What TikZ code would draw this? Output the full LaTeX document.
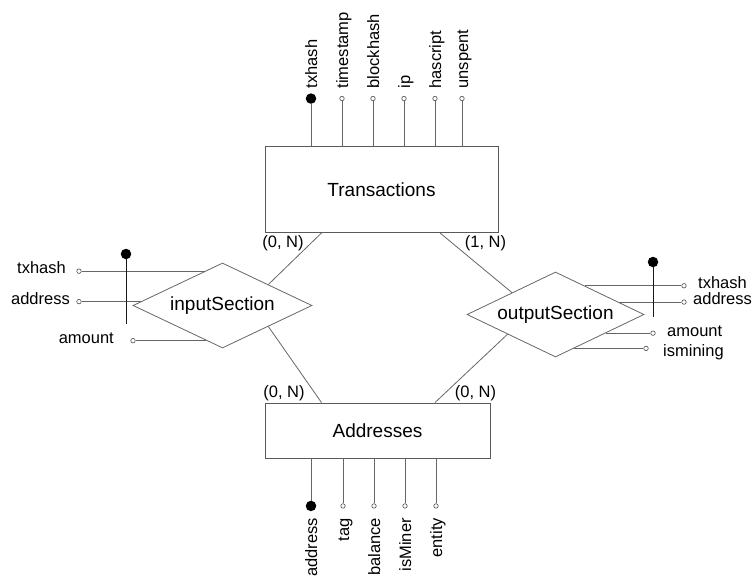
\documentclass[tikz,border=0pt]{standalone}
\usepackage{fontspec}
\setmainfont{Liberation Sans}
\usetikzlibrary{shapes.geometric, positioning, calc}

\tikzset{
  entity/.style={draw=black!65, line width=0.9pt, rectangle, inner sep=0pt, font=\fontsize{19}{23}\selectfont},
  relation/.style={draw=black!60, line width=0.8pt, diamond, aspect=2.1, inner sep=0pt, font=\fontsize{19}{23}\selectfont},
  attr/.style={circle, draw=black!70, fill=white, line width=0.6pt, inner sep=0pt, minimum size=4.5pt},
  keyattr/.style={circle, fill=black, inner sep=0pt, minimum size=10.5pt},
  lbl/.style={font=\fontsize{16.5}{20}\selectfont, inner sep=0pt},
  vlbl/.style={lbl, rotate=90, text height=12pt, text depth=0pt},
  conn/.style={draw=black!60, line width=0.8pt},
  keyline/.style={draw=black!90, line width=0.9pt}
}

\begin{document}
\begin{tikzpicture}[x=1pt, y=-1pt]
\useasboundingbox (0,0) rectangle (752,576);

\node[entity, minimum width=233pt, minimum height=86pt] (trans) at (381.5,189.5) {Transactions};
\node[entity, minimum width=225pt, minimum height=55pt] (addr) at (377.5,430.5) {Addresses};
\node[relation, minimum width=179pt, minimum height=85pt] (insec) at (222.5,305.5) {inputSection};
\node[relation, minimum width=177pt, minimum height=85pt] (outsec) at (555.5,314.5) {outputSection};

\draw[conn] ([xshift=-60pt]trans.south) -- ($(insec.north)!0.51!(insec.east)$);
\draw[conn] ($(insec.south)!0.51!(insec.east)$) -- ([xshift=-56pt]addr.north);
\draw[conn] ([xshift=58.5pt]trans.south) -- ($(outsec.north)!0.49!(outsec.west)$);
\draw[conn] ($(outsec.south)!0.54!(outsec.west)$) -- ([xshift=57.5pt]addr.north);

\node[lbl] (card1) at (283,243) {(0, N)};
\node[lbl] (card2) at (485.5,243) {(1, N)};
\node[lbl] (card3) at (284,393) {(0, N)};
\node[lbl] (card4) at (475.5,393) {(0, N)};

\foreach \dx/\name/\kind [count=\i] in {-70.5/txhash/keyattr, -39.5/timestamp/attr, -8.5/blockhash/attr, 22.5/ip/attr, 53.5/hascript/attr, 80.5/unspent/attr} {
  \node[\kind] (t\i) at ([xshift=\dx pt, yshift=47.5pt]trans.north) {};
  \draw[conn] ([xshift=\dx pt]trans.north) -- (t\i);
  \node[vlbl, anchor=west] (tl\i) at ([yshift=10pt]t\i.center) {\name};
}

\foreach \dx/\name/\kind [count=\i] in {-66.5/address/keyattr, -34.5/tag/attr, -3.5/balance/attr, 27.5/isMiner/attr, 58.5/entity/attr} {
  \node[\kind] (b\i) at ([xshift=\dx pt, yshift=-47.5pt]addr.south) {};
  \draw[conn] ([xshift=\dx pt]addr.south) -- (b\i);
  \node[vlbl, anchor=east] (bl\i) at ([yshift=-12pt]b\i.center) {\name};
}

\coordinate (ie1) at ($(insec.west)!0.8!(insec.north)$);
\coordinate (ie2) at ($(insec.west)!0.09!(insec.north)$);
\coordinate (ie3) at ($(insec.west)!0.82!(insec.south)$);
\node[attr] (ia1) at (79,0 |- ie1) {};
\node[attr] (ia2) at (79,0 |- ie2) {};
\node[attr] (ia3) at (133,0 |- ie3) {};
\draw[conn] (ie1) -- (ia1);
\draw[conn] (ie2) -- (ia2);
\draw[conn] (ie3) -- (ia3);
\node[lbl, anchor=base east] (il1) at ([xshift=-13pt, yshift=-2.5pt]ia1.center) {txhash};
\node[lbl, anchor=base east] (il2) at ([xshift=-9pt, yshift=-3pt]ia2.center) {address};
\node[lbl, anchor=base east] (il3) at ([xshift=-19pt, yshift=-2.5pt]ia3.center) {amount};
\node[keyattr] (ikey) at (126,254) {};
\coordinate (ikeyend) at (126,324);
\draw[keyline] (ikey) -- (ikeyend);

\coordinate (oe1) at ($(outsec.north)!0.33!(outsec.east)$);
\coordinate (oe2) at ($(outsec.north)!0.71!(outsec.east)$);
\coordinate (oe3) at ($(outsec.east)!0.435!(outsec.south)$);
\coordinate (oe4) at ($(outsec.east)!0.79!(outsec.south)$);
\node[attr] (oa1) at (684,0 |- oe1) {};
\node[attr] (oa2) at (684,0 |- oe2) {};
\node[attr] (oa3) at (653,0 |- oe3) {};
\node[attr] (oa4) at (646,0 |- oe4) {};
\draw[conn] (oe1) -- (oa1);
\draw[conn] (oe2) -- (oa2);
\draw[conn] (oe3) -- (oa3);
\draw[conn] (oe4) -- (oa4);
\node[lbl, anchor=base west] (ol1) at ([xshift=14pt, yshift=-2.5pt]oa1.center) {txhash};
\node[lbl, anchor=base west] (ol2) at ([xshift=9pt, yshift=-2.5pt]oa2.center) {address};
\node[lbl, anchor=base west] (ol3) at ([xshift=14pt, yshift=-3pt]oa3.center) {amount};
\node[lbl, anchor=base west] (ol4) at ([xshift=17pt, yshift=-8pt]oa4.center) {ismining};
\node[keyattr] (okey) at (653,262) {};
\coordinate (okeyend) at (653,317);
\draw[keyline] (okey) -- (okeyend);
\end{tikzpicture}
\end{document}
